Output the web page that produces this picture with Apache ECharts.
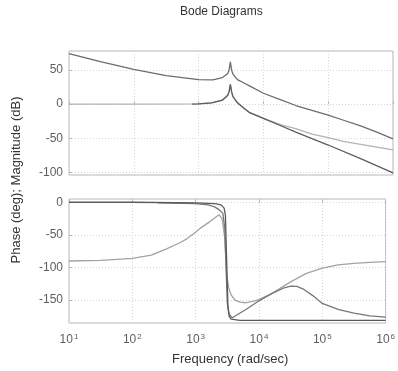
<!DOCTYPE html>
<html>
<head>
<meta charset="utf-8">
<script src="https://cdn.jsdelivr.net/npm/echarts@6/dist/echarts.min.js"></script>
<style>
  html, body { margin: 0; padding: 0; background: #fff; }
  #chart { width: 398px; height: 371px; }
</style>
</head>
<body>
<div id="chart"></div>
<script>
// frequencies are given as log10(rad/sec)
const magUpperLogF = [1, 1.5, 2, 2.5, 3, 3.22, 3.37, 3.45, 3.47, 3.49, 3.51, 3.53, 3.6, 3.7, 3.8, 4, 4.25, 4.5, 4.75, 5, 5.25, 5.5, 5.75, 6]
const magUpper = [74, 62, 51, 42, 36, 35.5, 39, 45, 50, 62, 50, 44, 36, 31, 26, 16, 7, -2, -9, -16, -24, -32, -41, -51]

const magDarkLogF = [2.9, 3, 3.2, 3.37, 3.45, 3.47, 3.49, 3.51, 3.53, 3.6, 3.7, 3.78, 4, 4.25, 4.5, 5, 5.5, 6]
const magDark = [0, 0.5, 2, 6, 13, 18, 29, 18, 11, 2, -6, -12, -21, -31, -41, -60, -80, -101]

const magLightLogF = [1, 2, 3, 3.2, 3.37, 3.45, 3.47, 3.49, 3.51, 3.53, 3.6, 3.7, 3.78, 4, 4.15, 4.3, 4.5, 4.75, 5, 5.25, 5.5, 5.75, 6]
const magLight = [0, 0, 0.5, 2, 6, 13, 18, 29, 18, 11, 2, -6, -12, -21, -26, -31, -36, -44, -49, -55, -59, -63, -67]

const phLightLogF = [1, 1.5, 2, 2.3, 2.55, 2.75, 2.86, 3, 3.07, 3.22, 3.3, 3.37, 3.42, 3.46, 3.49, 3.52, 3.56, 3.62, 3.7, 3.78, 3.9, 4, 4.2, 4.5, 4.75, 5, 5.25, 5.5, 5.75, 6]
const phLight = [-90, -89, -86, -81, -71, -62, -56, -46, -40, -30, -24, -19, -26, -55, -110, -130, -142, -150, -153, -154, -152, -149, -140, -122, -109, -101, -96, -93.5, -92, -91]

const phFlatLogF = [1, 2, 3, 3.3, 3.4, 3.45, 3.47, 3.49, 3.51, 3.53, 3.56, 3.7, 4, 6]
const phFlat = [0, 0, -1, -2, -4, -9, -20, -90, -160, -175, -179, -181, -181, -181]

const phHumpLogF = [2.4, 3, 3.2, 3.3, 3.38, 3.43, 3.46, 3.48, 3.5, 3.53, 3.58, 3.8, 4, 4.2, 4.4, 4.5, 4.6, 4.7, 4.85, 5, 5.25, 5.5, 5.75, 6]
const phHump = [-1, -2, -4, -7, -12, -17, -40, -100, -155, -172, -177, -164, -151, -140, -131, -128.5, -129, -133, -143, -155, -164, -170, -174, -176]

const magTicks = [-100, -50, 0, 50]
const phaseTicks = [-150, -100, -50, 0]

const toPairs = (logF, vals) => logF.map((lf, i) => [Math.pow(10, lf), vals[i]])

const chart = echarts.init(document.getElementById('chart'))

const frameColor = '#b8b8b8'
const gridLine = { show: true, lineStyle: { color: '#d6d6d6', type: [1, 2], width: 1 } }
const tickLabel = { color: '#5e5e5e', fontSize: 12, fontFamily: 'Liberation Sans' }

const xAxisBase = {
  type: 'log',
  logBase: 10,
  min: 10,
  max: 1000000,
  interval: 1,
  axisLine: { show: false },
  axisTick: { show: true, inside: true, length: 3, lineStyle: { color: frameColor } },
  splitLine: gridLine
}

const line = (logF, vals, color, xi) => ({
  type: 'line',
  xAxisIndex: xi,
  yAxisIndex: xi,
  data: toPairs(logF, vals),
  showSymbol: false,
  lineStyle: { color: color, width: 1.3 },
  animation: false
})

const option = {
  animation: false,
  backgroundColor: '#fff',
  grid: [
    { left: 69, right: 5, top: 51, height: 124, show: true, borderColor: frameColor, borderWidth: 1 },
    { left: 69, right: 5, top: 199, height: 124, show: true, borderColor: frameColor, borderWidth: 1 }
  ],
  xAxis: [
    Object.assign({}, xAxisBase, { gridIndex: 0, axisLabel: { show: false } }),
    Object.assign({}, xAxisBase, {
      gridIndex: 1,
      axisLabel: Object.assign({}, tickLabel, {
        margin: 10,
        formatter: v => '10{s|' + Math.round(Math.log10(v)) + '}',
        rich: { s: { fontSize: 8, color: '#5e5e5e', verticalAlign: 'top', padding: [0, 0, 6, 1] } }
      })
    })
  ],
  yAxis: [
    {
      gridIndex: 0, type: 'value', min: -104, max: 78,
      axisLine: { show: false },
      axisTick: { show: true, inside: true, length: 3, customValues: magTicks, lineStyle: { color: frameColor } },
      axisLabel: Object.assign({}, tickLabel, { customValues: magTicks, margin: 6 }),
      splitLine: gridLine
    },
    {
      gridIndex: 1, type: 'value', min: -185, max: 5,
      axisLine: { show: false },
      axisTick: { show: true, inside: true, length: 3, customValues: phaseTicks, lineStyle: { color: frameColor } },
      axisLabel: Object.assign({}, tickLabel, { customValues: phaseTicks, margin: 6 }),
      splitLine: gridLine
    }
  ],
  series: [
    line(magLightLogF, magLight, '#b3b3b3', 0),
    line(magDarkLogF, magDark, '#5c5c5c', 0),
    line(magUpperLogF, magUpper, '#6c6c6c', 0),
    line(phLightLogF, phLight, '#a2a2a2', 1),
    line(phHumpLogF, phHump, '#777777', 1),
    line(phFlatLogF, phFlat, '#5a5a5a', 1)
  ],
  graphic: [
    { type: 'text', left: 180, top: 6, style: { text: 'Bode Diagrams', font: '12px "Liberation Sans"', fill: '#333' } },
    { type: 'text', left: 172, top: 353, style: { text: 'Frequency (rad/sec)', font: '13px "Liberation Sans"', fill: '#333' } },
    {
      type: 'text', x: 16, y: 180, rotation: Math.PI / 2,
      style: { text: 'Phase (deg); Magnitude (dB)', font: '13px "Liberation Sans"', fill: '#333', align: 'center', verticalAlign: 'middle' }
    }
  ]
}

chart.setOption(option)
</script>
</body>
</html>
